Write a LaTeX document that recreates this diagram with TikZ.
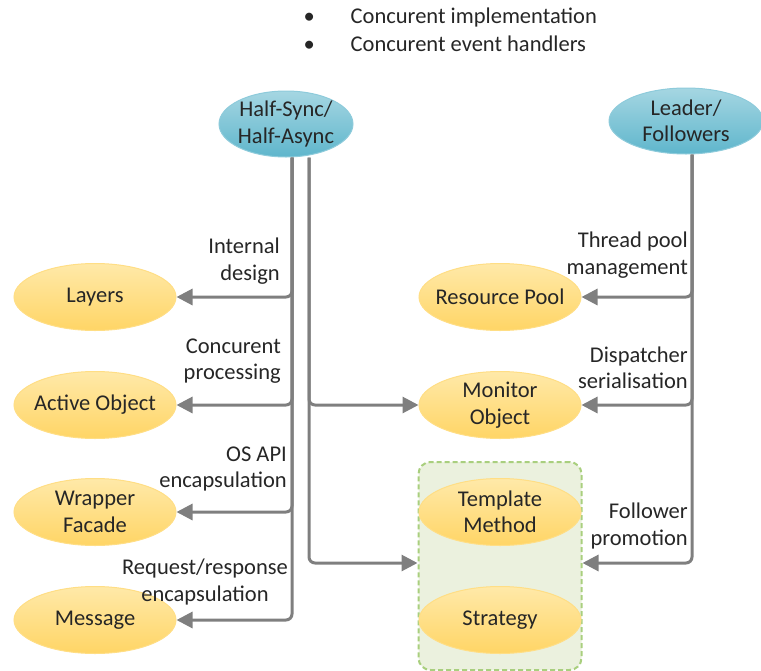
\documentclass[tikz,border=0pt]{standalone}
\usepackage{fontspec}
\setmainfont{Carlito}
\usetikzlibrary{arrows.meta,fit,backgrounds,shapes.geometric}
\definecolor{tealtop}{HTML}{A5D6E2}
\definecolor{tealbot}{HTML}{5FB6CC}
\definecolor{tealline}{HTML}{8ECBDB}
\definecolor{ambertop}{HTML}{FFE9A8}
\definecolor{amberbot}{HTML}{FFD566}
\definecolor{amberline}{HTML}{FFDE85}
\definecolor{linegray}{HTML}{7F7F7F}
\definecolor{boxfill}{HTML}{EBF1DE}
\definecolor{boxline}{HTML}{A9CF7E}
\tikzset{
  txt/.style={font=\fontsize{22.5}{26.5}\selectfont, text=black!85},
  lbl/.style={txt, align=right, inner sep=0pt},
  archnode/.style={txt, ellipse, minimum width=134, minimum height=66, align=center,
    inner xsep=-14pt, inner ysep=-4pt, top color=tealtop, bottom color=tealbot,
    draw=tealline, line width=1},
  pat/.style={txt, ellipse, minimum width=162, minimum height=67, align=center,
    inner xsep=-10pt, inner ysep=-4pt, top color=ambertop, bottom color=amberbot,
    draw=amberline, line width=1},
  link/.style={draw=linegray, line width=3, rounded corners=6,
    -{Triangle[length=16,width=16]}}
}
\begin{document}
\begin{tikzpicture}[x=1pt,y=-1pt]
  \useasboundingbox (0,0) rectangle (761,670);
  % Bullets
  \node[txt, anchor=west] (b1) at (300,17) {•\hspace{36pt}Concurent implementation};
  \node[txt, anchor=west] (b2) at (300,44) {•\hspace{36pt}Concurent event handlers};
  % Architectural patterns
  \node[archnode] (hs) at (286,124) {Half-Sync/\\Half-Async};
  \node[archnode, minimum width=154] (lf) at (686,121) {Leader/\\Followers};
  % Design patterns
  \node[pat] (lay) at (95,297) {Layers};
  \node[pat] (ao) at (95,405) {Active Object};
  \node[pat] (wf) at (95,512) {Wrapper\\Facade};
  \node[pat] (msg) at (95,620) {Message};
  \node[pat] (rp) at (500,297) {Resource Pool};
  \node[pat] (mo) at (500,405) {Monitor\\Object};
  \node[pat] (tm) at (500,512) {Template\\Method};
  \node[pat] (st) at (500,620) {Strategy};
  % Group box
  \begin{scope}[on background layer]
    \node[fit=(tm)(st), inner xsep=0pt, inner ysep=16pt, draw=boxline, fill=boxfill,
      dash pattern=on 5pt off 3pt, line width=2, rounded corners=12] (grp) {};
  \end{scope}
  % Trunk points
  \coordinate (h1) at ([xshift=6]hs.south);
  \coordinate (h2) at ([xshift=23]hs.south);
  \coordinate (l1) at ([xshift=6]lf.south);
  % Half-Sync/Half-Async
  \draw[link] (h1) |- (lay.east);
  \draw[link] (h1) |- (ao.east);
  \draw[link] (h1) |- (wf.east);
  \draw[link] (h1) |- (msg.east);
  \draw[link] (h2) |- (mo.west);
  \draw[link] (h2) |- ([yshift=3]grp.west);
  % Leader/Followers
  \draw[link] (l1) |- (rp.east);
  \draw[link] (l1) |- (mo.east);
  \draw[link] (l1) |- ([yshift=3]grp.east);
  % Labels
  \node[lbl, anchor=east] (t1) at (280,261) {Internal\\design};
  \node[lbl, anchor=east] (t2) at (281,361) {Concurent\\processing};
  \node[lbl, anchor=east] (t3) at (287,469) {OS API\\encapsulation};
  \node[lbl, align=center] (t4) at (205,582) {Request/response\\encapsulation};
  \node[lbl, anchor=east] (t5) at (688,255) {Thread pool\\management};
  \node[lbl, anchor=east] (t6) at (688,368) {Dispatcher\\serialisation};
  \node[lbl, anchor=east] (t7) at (688,526) {Follower\\promotion};
\end{tikzpicture}
\end{document}
